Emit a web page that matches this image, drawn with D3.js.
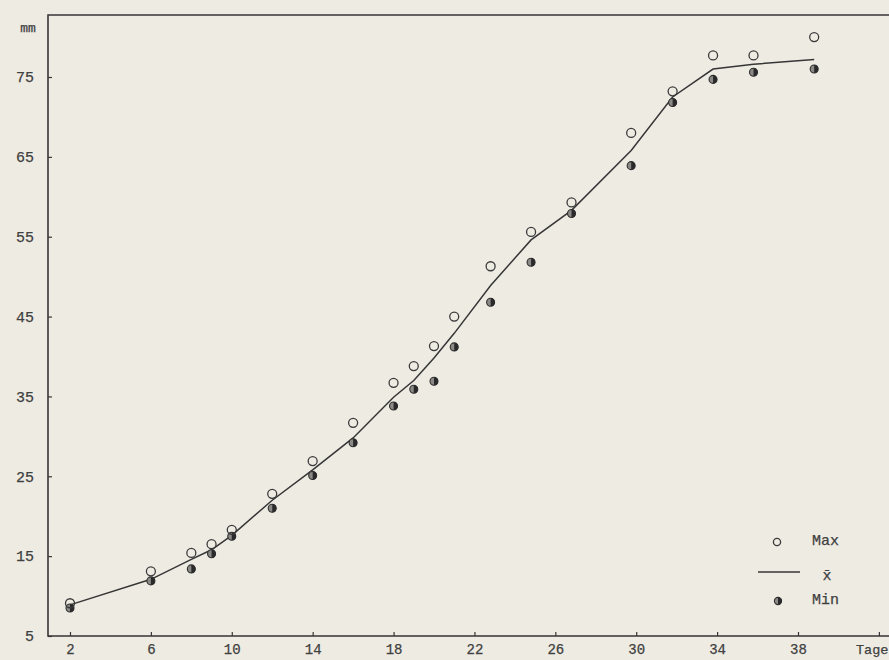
<!DOCTYPE html>
<html>
<head>
<meta charset="utf-8">
<script src="https://cdn.jsdelivr.net/npm/d3@7"></script>
<style>
  html, body { margin: 0; padding: 0; background: #eeebe3; }
  svg { display: block; }
  text { font-family: "Liberation Mono", "DejaVu Sans Mono", monospace; fill: #404040; stroke: #404040; stroke-width: 0.25px; }
</style>
</head>
<body>
<svg id="chart" width="889" height="660"></svg>
<script>
// growth in mm over days (Tage)
const days   = [2, 6, 8, 9, 10, 12, 14, 16, 18, 19, 20, 21, 22.8, 24.8, 26.8, 29.75, 31.8, 33.8, 35.8, 38.8];
const maxMm  = [9.1, 13.1, 15.4, 16.5, 18.3, 22.8, 26.9, 31.7, 36.7, 38.8, 41.3, 45.0, 51.3, 55.6, 59.3, 68.0, 73.2, 77.7, 77.7, 80.0];
const meanMm = [8.9, 12.1, 14.6, 15.8, 17.6, 22.0, 25.8, 29.8, 34.9, 37.0, 39.8, 42.9, 48.9, 54.6, 58.3, 65.8, 72.5, 76.0, 76.6, 77.2];
const minMm  = [8.5, 11.9, 13.4, 15.3, 17.5, 21.0, 25.1, 29.2, 33.8, 35.9, 36.9, 41.2, 46.8, 51.8, 57.9, 63.9, 71.8, 74.7, 75.6, 76.0];

const xTicks = [2, 6, 10, 14, 18, 22, 26, 30, 34, 38, 42];
const yTicks = [5, 15, 25, 35, 45, 55, 65, 75];

const ink = "#363636";
const svg = d3.select("#chart");

const x = d3.scaleLinear().domain([2, 38]).range([70, 798]);
const y = d3.scaleLinear().domain([5, 75]).range([636, 77]);

const frameL = 48, frameR = 889, frameT = 15, frameB = y(5);

// frame (left, top, bottom)
svg.append("path")
  .attr("d", `M${frameR},${frameT}H${frameL}V${frameB}H${frameR}`)
  .attr("fill", "none")
  .attr("stroke", ink)
  .attr("stroke-width", 1.6);

// axes
const yAxis = d3.axisLeft(y).tickValues(yTicks).tickSizeInner(-4).tickSizeOuter(0).tickPadding(14);
const gy = svg.append("g").attr("transform", `translate(${frameL},0)`).call(yAxis);
gy.select(".domain").remove();
gy.selectAll("line").attr("stroke", ink).attr("stroke-width", 1.2);
gy.selectAll("text").style("font-size", "15px").attr("fill", "#404040");

const xAxis = d3.axisBottom(x).tickValues(xTicks).tickSizeInner(-4).tickSizeOuter(0).tickPadding(8)
  .tickFormat(d => d === 42 ? "" : d);
const gx = svg.append("g").attr("transform", `translate(0,${frameB})`).call(xAxis);
gx.select(".domain").remove();
gx.selectAll("line").attr("stroke", ink).attr("stroke-width", 1.2);
gx.selectAll("text").style("font-size", "14px").attr("fill", "#404040");

svg.append("text").attr("x", 856).attr("y", 654)
  .style("font-size", "13.5px").text("Tage");
svg.append("text").attr("x", 28).attr("y", 32).attr("text-anchor", "middle")
  .style("font-size", "13px").text("mm");

// mean line
const line = d3.line().x(i => x(days[i])).y(i => y(meanMm[i]));
svg.append("path")
  .attr("d", line(d3.range(days.length)))
  .attr("fill", "none")
  .attr("stroke", ink)
  .attr("stroke-width", 1.5);

function drawMax(g, cx, cy, r) {
  g.append("circle").attr("cx", cx).attr("cy", cy).attr("r", r)
    .attr("fill", "none").attr("stroke", "#3a3a3a").attr("stroke-width", 1.3);
}
function drawMin(g, cx, cy, r) {
  g.append("circle").attr("cx", cx).attr("cy", cy).attr("r", r)
    .attr("fill", "#8c8a86").attr("stroke", "#2e2e2e").attr("stroke-width", 1.1);
  g.append("path")
    .attr("d", `M${cx},${cy - r}A${r},${r} 0 0 1 ${cx},${cy + r}Z`)
    .attr("fill", "#2a2a2a");
}

const pts = svg.append("g");
days.forEach((d, i) => {
  drawMin(pts, x(d), y(minMm[i]), 4);
  drawMax(pts, x(d), y(maxMm[i]), 4.5);
});

// legend
const lg = svg.append("g");
drawMax(lg, 777, 542, 3.6);
lg.append("text").attr("x", 812).attr("y", 545).style("font-size", "15px").text("Max");
lg.append("line").attr("x1", 758).attr("x2", 800).attr("y1", 572).attr("y2", 572)
  .attr("stroke", ink).attr("stroke-width", 1.5);
lg.append("text").attr("x", 827).attr("y", 580).attr("text-anchor", "middle")
  .style("font-size", "15px").text("x\u0304");
drawMin(lg, 778, 601, 3.6);
lg.append("text").attr("x", 812).attr("y", 604).style("font-size", "15px").text("Min");
</script>
</body>
</html>
